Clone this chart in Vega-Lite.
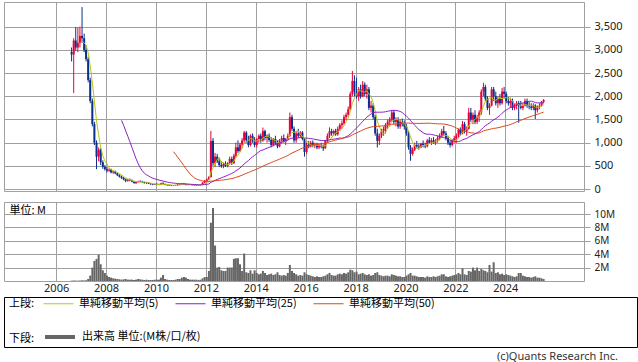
{
"$schema":"https://vega.github.io/schema/vega-lite/v6.json",
"padding":{"left":3,"top":1,"right":0,"bottom":0},
"background":"white",
"bounds":"flush",
"spacing":5,
"resolve":{"scale":{"color":"independent"},"legend":{"color":"independent"}},
"config":{
 "font":"Noto Sans",
 "view":{"stroke":"#a0a0a0","strokeWidth":1},
 "axis":{"labelFont":"Noto Sans","labelFontSize":11,"labelColor":"#222222","gridColor":"#a0a0a0","gridWidth":1,"tickColor":"#a0a0a0","domain":false},
 "legend":{"labelFont":"Noto Sans CJK JP","labelFontSize":11,"labelColor":"#000000","titleFont":"Noto Sans CJK JP","titleFontSize":11,"titleFontWeight":"normal","titleColor":"#000000"}
},
"datasets":{"p":[
{"d":"2006-08-15","o":2950,"h":3050,"l":2750,"c":2900,"v":0.05},
{"d":"2006-09-15","o":2900,"h":3250,"l":2070,"c":3200,"v":0.08},
{"d":"2006-10-15","o":3200,"h":3490,"l":2980,"c":3050,"v":0.06},
{"d":"2006-11-15","o":3050,"h":3480,"l":2950,"c":3150,"v":0.05},
{"d":"2006-12-15","o":3150,"h":3500,"l":3050,"c":3300,"v":0.07},
{"d":"2007-01-15","o":3300,"h":3920,"l":3150,"c":3250,"v":0.1},
{"d":"2007-02-15","o":3250,"h":3350,"l":2950,"c":3000,"v":0.08},
{"d":"2007-03-15","o":3000,"h":3100,"l":2750,"c":2800,"v":0.1},
{"d":"2007-04-15","o":2800,"h":2850,"l":2300,"c":2350,"v":0.3},
{"d":"2007-05-15","o":2350,"h":2400,"l":1850,"c":1900,"v":0.8},
{"d":"2007-06-15","o":1900,"h":1950,"l":1350,"c":1400,"v":2.0},
{"d":"2007-07-15","o":1400,"h":1450,"l":950,"c":1000,"v":3.0},
{"d":"2007-08-15","o":1000,"h":1050,"l":430,"c":700,"v":3.3},
{"d":"2007-09-15","o":700,"h":900,"l":600,"c":850,"v":3.9},
{"d":"2007-10-15","o":850,"h":880,"l":520,"c":580,"v":2.5},
{"d":"2007-11-15","o":580,"h":620,"l":440,"c":480,"v":1.6},
{"d":"2007-12-15","o":480,"h":520,"l":400,"c":430,"v":1.2},
{"d":"2008-01-15","o":430,"h":480,"l":360,"c":400,"v":0.8},
{"d":"2008-02-15","o":400,"h":450,"l":370,"c":420,"v":0.6},
{"d":"2008-03-15","o":420,"h":440,"l":340,"c":360,"v":0.5},
{"d":"2008-04-15","o":360,"h":400,"l":330,"c":380,"v":0.4},
{"d":"2008-05-15","o":380,"h":400,"l":320,"c":340,"v":0.35},
{"d":"2008-06-15","o":340,"h":360,"l":280,"c":300,"v":0.3},
{"d":"2008-07-15","o":300,"h":320,"l":250,"c":270,"v":0.25},
{"d":"2008-08-15","o":270,"h":290,"l":220,"c":240,"v":0.2},
{"d":"2008-09-15","o":240,"h":260,"l":190,"c":210,"v":0.25},
{"d":"2008-10-15","o":210,"h":230,"l":150,"c":180,"v":0.3},
{"d":"2008-11-15","o":180,"h":220,"l":160,"c":200,"v":0.2},
{"d":"2008-12-15","o":200,"h":230,"l":170,"c":190,"v":0.2},
{"d":"2009-01-15","o":190,"h":210,"l":150,"c":160,"v":0.2},
{"d":"2009-02-15","o":160,"h":170,"l":120,"c":130,"v":0.15},
{"d":"2009-03-15","o":130,"h":160,"l":110,"c":150,"v":0.2},
{"d":"2009-04-15","o":150,"h":180,"l":140,"c":170,"v":0.3},
{"d":"2009-05-15","o":170,"h":190,"l":150,"c":160,"v":0.25},
{"d":"2009-06-15","o":160,"h":180,"l":140,"c":150,"v":0.2},
{"d":"2009-07-15","o":150,"h":160,"l":120,"c":130,"v":0.15},
{"d":"2009-08-15","o":130,"h":150,"l":110,"c":140,"v":0.2},
{"d":"2009-09-15","o":140,"h":150,"l":110,"c":120,"v":0.15},
{"d":"2009-10-15","o":120,"h":130,"l":95,"c":105,"v":0.15},
{"d":"2009-11-15","o":105,"h":115,"l":85,"c":95,"v":0.15},
{"d":"2009-12-15","o":95,"h":120,"l":90,"c":110,"v":0.2},
{"d":"2010-01-15","o":110,"h":130,"l":95,"c":100,"v":0.2},
{"d":"2010-02-15","o":100,"h":115,"l":85,"c":95,"v":0.2},
{"d":"2010-03-15","o":95,"h":140,"l":90,"c":125,"v":0.5},
{"d":"2010-04-15","o":125,"h":150,"l":100,"c":110,"v":0.9},
{"d":"2010-05-15","o":110,"h":120,"l":85,"c":90,"v":0.3},
{"d":"2010-06-15","o":90,"h":100,"l":75,"c":85,"v":0.2},
{"d":"2010-07-15","o":85,"h":95,"l":70,"c":80,"v":0.15},
{"d":"2010-08-15","o":80,"h":90,"l":65,"c":75,"v":0.15},
{"d":"2010-09-15","o":75,"h":85,"l":65,"c":80,"v":0.15},
{"d":"2010-10-15","o":80,"h":95,"l":70,"c":85,"v":0.2},
{"d":"2010-11-15","o":85,"h":110,"l":80,"c":100,"v":0.3},
{"d":"2010-12-15","o":100,"h":120,"l":90,"c":105,"v":0.3},
{"d":"2011-01-15","o":105,"h":130,"l":95,"c":115,"v":0.5},
{"d":"2011-02-15","o":115,"h":135,"l":100,"c":110,"v":0.6},
{"d":"2011-03-15","o":110,"h":120,"l":80,"c":90,"v":0.5},
{"d":"2011-04-15","o":90,"h":100,"l":80,"c":95,"v":0.3},
{"d":"2011-05-15","o":95,"h":105,"l":85,"c":90,"v":0.2},
{"d":"2011-06-15","o":90,"h":100,"l":80,"c":85,"v":0.2},
{"d":"2011-07-15","o":85,"h":95,"l":75,"c":90,"v":0.2},
{"d":"2011-08-15","o":90,"h":95,"l":70,"c":80,"v":0.2},
{"d":"2011-09-15","o":80,"h":90,"l":70,"c":85,"v":0.15},
{"d":"2011-10-15","o":85,"h":95,"l":75,"c":90,"v":0.2},
{"d":"2011-11-15","o":90,"h":150,"l":85,"c":140,"v":0.4},
{"d":"2011-12-15","o":140,"h":200,"l":130,"c":180,"v":0.6},
{"d":"2012-01-15","o":180,"h":230,"l":170,"c":210,"v":0.6},
{"d":"2012-02-15","o":210,"h":280,"l":200,"c":260,"v":1.5},
{"d":"2012-03-15","o":260,"h":1255,"l":250,"c":1040,"v":8.7},
{"d":"2012-04-15","o":1040,"h":1100,"l":500,"c":560,"v":10.9},
{"d":"2012-05-15","o":560,"h":780,"l":480,"c":700,"v":5.3},
{"d":"2012-06-15","o":700,"h":760,"l":560,"c":600,"v":2.0},
{"d":"2012-07-15","o":600,"h":680,"l":480,"c":520,"v":2.1},
{"d":"2012-08-15","o":520,"h":600,"l":460,"c":500,"v":1.6},
{"d":"2012-09-15","o":500,"h":560,"l":450,"c":540,"v":1.5},
{"d":"2012-10-15","o":540,"h":600,"l":480,"c":500,"v":1.5},
{"d":"2012-11-15","o":500,"h":580,"l":470,"c":560,"v":2.0},
{"d":"2012-12-15","o":560,"h":700,"l":530,"c":650,"v":2.0},
{"d":"2013-01-15","o":650,"h":700,"l":520,"c":560,"v":2.0},
{"d":"2013-02-15","o":560,"h":760,"l":540,"c":720,"v":3.3},
{"d":"2013-03-15","o":720,"h":1000,"l":680,"c":900,"v":3.4},
{"d":"2013-04-15","o":900,"h":1050,"l":780,"c":820,"v":3.4},
{"d":"2013-05-15","o":820,"h":1000,"l":800,"c":960,"v":2.5},
{"d":"2013-06-15","o":960,"h":1100,"l":880,"c":1050,"v":1.5},
{"d":"2013-07-15","o":1050,"h":1254,"l":1000,"c":1220,"v":4.1},
{"d":"2013-08-15","o":1220,"h":1250,"l":1000,"c":1050,"v":1.3},
{"d":"2013-09-15","o":1050,"h":1150,"l":900,"c":950,"v":1.2},
{"d":"2013-10-15","o":950,"h":1180,"l":920,"c":1150,"v":1.6},
{"d":"2013-11-15","o":1150,"h":1200,"l":1000,"c":1050,"v":1.1},
{"d":"2013-12-15","o":1050,"h":1120,"l":900,"c":950,"v":1.6},
{"d":"2014-01-15","o":950,"h":1100,"l":900,"c":1080,"v":1.2},
{"d":"2014-02-15","o":1080,"h":1180,"l":1000,"c":1150,"v":1.0},
{"d":"2014-03-15","o":1150,"h":1200,"l":1000,"c":1050,"v":1.1},
{"d":"2014-04-15","o":1050,"h":1326,"l":1020,"c":1250,"v":1.5},
{"d":"2014-05-15","o":1250,"h":1280,"l":1050,"c":1100,"v":1.2},
{"d":"2014-06-15","o":1100,"h":1180,"l":1000,"c":1150,"v":0.9},
{"d":"2014-07-15","o":1150,"h":1200,"l":1020,"c":1060,"v":1.0},
{"d":"2014-08-15","o":1060,"h":1120,"l":900,"c":950,"v":1.1},
{"d":"2014-09-15","o":950,"h":1100,"l":920,"c":1080,"v":0.9},
{"d":"2014-10-15","o":1080,"h":1150,"l":950,"c":1000,"v":1.0},
{"d":"2014-11-15","o":1000,"h":1050,"l":880,"c":920,"v":1.3},
{"d":"2014-12-15","o":920,"h":1080,"l":900,"c":1050,"v":0.9},
{"d":"2015-01-15","o":1050,"h":1150,"l":980,"c":1100,"v":0.8},
{"d":"2015-02-15","o":1100,"h":1180,"l":1000,"c":1020,"v":0.9},
{"d":"2015-03-15","o":1020,"h":1100,"l":950,"c":1080,"v":0.8},
{"d":"2015-04-15","o":1080,"h":1200,"l":1050,"c":1150,"v":1.2},
{"d":"2015-05-15","o":1150,"h":1650,"l":1120,"c":1550,"v":2.4},
{"d":"2015-06-15","o":1550,"h":1600,"l":1250,"c":1300,"v":1.5},
{"d":"2015-07-15","o":1300,"h":1350,"l":1000,"c":1050,"v":1.2},
{"d":"2015-08-15","o":1050,"h":1250,"l":1000,"c":1200,"v":1.0},
{"d":"2015-09-15","o":1200,"h":1300,"l":1100,"c":1150,"v":0.8},
{"d":"2015-10-15","o":1150,"h":1250,"l":1100,"c":1220,"v":0.9},
{"d":"2015-11-15","o":1220,"h":1250,"l":1050,"c":1080,"v":0.8},
{"d":"2015-12-15","o":1080,"h":1100,"l":700,"c":800,"v":1.3},
{"d":"2016-01-15","o":800,"h":1000,"l":760,"c":960,"v":1.0},
{"d":"2016-02-15","o":960,"h":1040,"l":880,"c":920,"v":0.9},
{"d":"2016-03-15","o":920,"h":1040,"l":900,"c":1000,"v":0.8},
{"d":"2016-04-15","o":1000,"h":1050,"l":900,"c":940,"v":0.7},
{"d":"2016-05-15","o":940,"h":1000,"l":880,"c":960,"v":0.6},
{"d":"2016-06-15","o":960,"h":1000,"l":860,"c":900,"v":0.7},
{"d":"2016-07-15","o":900,"h":980,"l":860,"c":940,"v":0.6},
{"d":"2016-08-15","o":940,"h":1000,"l":880,"c":920,"v":0.6},
{"d":"2016-09-15","o":920,"h":960,"l":823,"c":880,"v":0.7},
{"d":"2016-10-15","o":880,"h":1060,"l":870,"c":1040,"v":0.8},
{"d":"2016-11-15","o":1040,"h":1200,"l":1000,"c":1150,"v":1.0},
{"d":"2016-12-15","o":1150,"h":1330,"l":1100,"c":1250,"v":1.2},
{"d":"2017-01-15","o":1250,"h":1300,"l":1150,"c":1200,"v":0.9},
{"d":"2017-02-15","o":1200,"h":1280,"l":1150,"c":1250,"v":0.8},
{"d":"2017-03-15","o":1250,"h":1300,"l":1150,"c":1180,"v":0.8},
{"d":"2017-04-15","o":1180,"h":1350,"l":1150,"c":1300,"v":1.0},
{"d":"2017-05-15","o":1300,"h":1420,"l":1250,"c":1380,"v":1.1},
{"d":"2017-06-15","o":1380,"h":1480,"l":1300,"c":1420,"v":1.0},
{"d":"2017-07-15","o":1420,"h":1600,"l":1380,"c":1550,"v":1.2},
{"d":"2017-08-15","o":1550,"h":1650,"l":1480,"c":1600,"v":1.1},
{"d":"2017-09-15","o":1600,"h":1780,"l":1550,"c":1720,"v":1.3},
{"d":"2017-10-15","o":1720,"h":2100,"l":1700,"c":2050,"v":1.7},
{"d":"2017-11-15","o":2050,"h":2545,"l":2000,"c":2330,"v":1.6},
{"d":"2017-12-15","o":2330,"h":2450,"l":2000,"c":2100,"v":1.3},
{"d":"2018-01-15","o":2100,"h":2400,"l":1950,"c":2000,"v":1.4},
{"d":"2018-02-15","o":2000,"h":2200,"l":1900,"c":2150,"v":1.0},
{"d":"2018-03-15","o":2150,"h":2250,"l":1950,"c":2000,"v":1.1},
{"d":"2018-04-15","o":2000,"h":2330,"l":1980,"c":2250,"v":1.2},
{"d":"2018-05-15","o":2250,"h":2300,"l":2000,"c":2050,"v":1.0},
{"d":"2018-06-15","o":2050,"h":2250,"l":1950,"c":2150,"v":0.9},
{"d":"2018-07-15","o":2150,"h":2200,"l":1700,"c":1750,"v":1.0},
{"d":"2018-08-15","o":1750,"h":1900,"l":1650,"c":1800,"v":0.8},
{"d":"2018-09-15","o":1800,"h":1850,"l":1500,"c":1550,"v":0.9},
{"d":"2018-10-15","o":1550,"h":1600,"l":1150,"c":1200,"v":1.2},
{"d":"2018-11-15","o":1200,"h":1300,"l":896,"c":1040,"v":1.3},
{"d":"2018-12-15","o":1040,"h":1200,"l":950,"c":1150,"v":0.9},
{"d":"2019-01-15","o":1150,"h":1300,"l":1100,"c":1250,"v":0.8},
{"d":"2019-02-15","o":1250,"h":1350,"l":1150,"c":1300,"v":0.7},
{"d":"2019-03-15","o":1300,"h":1420,"l":1200,"c":1380,"v":0.8},
{"d":"2019-04-15","o":1380,"h":1500,"l":1300,"c":1450,"v":0.8},
{"d":"2019-05-15","o":1450,"h":1550,"l":1350,"c":1500,"v":0.7},
{"d":"2019-06-15","o":1500,"h":1700,"l":1450,"c":1650,"v":1.0},
{"d":"2019-07-15","o":1650,"h":1700,"l":1400,"c":1450,"v":0.9},
{"d":"2019-08-15","o":1450,"h":1550,"l":1350,"c":1500,"v":0.8},
{"d":"2019-09-15","o":1500,"h":1550,"l":1300,"c":1350,"v":0.7},
{"d":"2019-10-15","o":1350,"h":1500,"l":1300,"c":1450,"v":0.7},
{"d":"2019-11-15","o":1450,"h":1520,"l":1350,"c":1400,"v":0.6},
{"d":"2019-12-15","o":1400,"h":1480,"l":1280,"c":1350,"v":0.6},
{"d":"2020-01-15","o":1350,"h":1400,"l":1150,"c":1200,"v":0.8},
{"d":"2020-02-15","o":1200,"h":1250,"l":850,"c":900,"v":1.0},
{"d":"2020-03-15","o":900,"h":950,"l":610,"c":760,"v":1.2},
{"d":"2020-04-15","o":760,"h":900,"l":720,"c":850,"v":0.8},
{"d":"2020-05-15","o":850,"h":1000,"l":820,"c":950,"v":0.8},
{"d":"2020-06-15","o":950,"h":1040,"l":880,"c":920,"v":0.7},
{"d":"2020-07-15","o":920,"h":980,"l":850,"c":900,"v":0.6},
{"d":"2020-08-15","o":900,"h":1000,"l":880,"c":980,"v":0.6},
{"d":"2020-09-15","o":980,"h":1050,"l":900,"c":950,"v":0.6},
{"d":"2020-10-15","o":950,"h":1000,"l":880,"c":920,"v":0.5},
{"d":"2020-11-15","o":920,"h":1080,"l":900,"c":1050,"v":0.7},
{"d":"2020-12-15","o":1050,"h":1120,"l":980,"c":1000,"v":0.6},
{"d":"2021-01-15","o":1000,"h":1100,"l":950,"c":1050,"v":0.6},
{"d":"2021-02-15","o":1050,"h":1120,"l":980,"c":1000,"v":0.7},
{"d":"2021-03-15","o":1000,"h":1080,"l":950,"c":1050,"v":0.6},
{"d":"2021-04-15","o":1050,"h":1150,"l":1000,"c":1100,"v":0.7},
{"d":"2021-05-15","o":1100,"h":1200,"l":1050,"c":1150,"v":0.8},
{"d":"2021-06-15","o":1150,"h":1300,"l":1100,"c":1250,"v":1.0},
{"d":"2021-07-15","o":1250,"h":1360,"l":1150,"c":1200,"v":1.0},
{"d":"2021-08-15","o":1200,"h":1250,"l":1050,"c":1100,"v":0.7},
{"d":"2021-09-15","o":1100,"h":1150,"l":950,"c":1000,"v":0.6},
{"d":"2021-10-15","o":1000,"h":1050,"l":896,"c":950,"v":0.7},
{"d":"2021-11-15","o":950,"h":1080,"l":920,"c":1050,"v":0.8},
{"d":"2021-12-15","o":1050,"h":1150,"l":1000,"c":1100,"v":0.9},
{"d":"2022-01-15","o":1100,"h":1200,"l":1000,"c":1150,"v":1.0},
{"d":"2022-02-15","o":1150,"h":1300,"l":1100,"c":1280,"v":1.2},
{"d":"2022-03-15","o":1280,"h":1330,"l":1150,"c":1200,"v":1.0},
{"d":"2022-04-15","o":1200,"h":1470,"l":1180,"c":1400,"v":1.9},
{"d":"2022-05-15","o":1400,"h":1450,"l":1200,"c":1250,"v":1.0},
{"d":"2022-06-15","o":1250,"h":1350,"l":1150,"c":1300,"v":0.9},
{"d":"2022-07-15","o":1300,"h":1750,"l":1280,"c":1650,"v":1.5},
{"d":"2022-08-15","o":1650,"h":1750,"l":1450,"c":1500,"v":1.4},
{"d":"2022-09-15","o":1500,"h":1650,"l":1400,"c":1600,"v":2.0},
{"d":"2022-10-15","o":1600,"h":1700,"l":1400,"c":1450,"v":1.6},
{"d":"2022-11-15","o":1450,"h":1600,"l":1400,"c":1550,"v":2.0},
{"d":"2022-12-15","o":1550,"h":1700,"l":1450,"c":1650,"v":1.5},
{"d":"2023-01-15","o":1650,"h":2150,"l":1600,"c":2100,"v":1.8},
{"d":"2023-02-15","o":2100,"h":2290,"l":2000,"c":2200,"v":1.6},
{"d":"2023-03-15","o":2200,"h":2250,"l":1900,"c":1950,"v":1.5},
{"d":"2023-04-15","o":1950,"h":2000,"l":1700,"c":1750,"v":1.3},
{"d":"2023-05-15","o":1750,"h":1850,"l":1600,"c":1800,"v":2.4},
{"d":"2023-06-15","o":1800,"h":2200,"l":1780,"c":2150,"v":1.4},
{"d":"2023-07-15","o":2150,"h":2200,"l":1900,"c":2000,"v":2.8},
{"d":"2023-08-15","o":2000,"h":2100,"l":1800,"c":1850,"v":1.2},
{"d":"2023-09-15","o":1850,"h":2000,"l":1750,"c":1950,"v":1.3},
{"d":"2023-10-15","o":1950,"h":2050,"l":1800,"c":1850,"v":1.0},
{"d":"2023-11-15","o":1850,"h":2180,"l":1820,"c":2100,"v":1.1},
{"d":"2023-12-15","o":2100,"h":2200,"l":1950,"c":2050,"v":0.9},
{"d":"2024-01-15","o":2050,"h":2100,"l":1850,"c":1900,"v":1.0},
{"d":"2024-02-15","o":1900,"h":1980,"l":1800,"c":1850,"v":0.9},
{"d":"2024-03-15","o":1850,"h":1970,"l":1750,"c":1900,"v":0.8},
{"d":"2024-04-15","o":1900,"h":1950,"l":1700,"c":1750,"v":0.7},
{"d":"2024-05-15","o":1750,"h":1850,"l":1700,"c":1800,"v":0.6},
{"d":"2024-06-15","o":1800,"h":1900,"l":1720,"c":1850,"v":0.7},
{"d":"2024-07-15","o":1850,"h":1900,"l":1430,"c":1800,"v":1.2},
{"d":"2024-08-15","o":1800,"h":1900,"l":1720,"c":1750,"v":1.2},
{"d":"2024-09-15","o":1750,"h":1850,"l":1700,"c":1800,"v":0.8},
{"d":"2024-10-15","o":1800,"h":1950,"l":1780,"c":1900,"v":0.7},
{"d":"2024-11-15","o":1900,"h":1950,"l":1750,"c":1800,"v":0.6},
{"d":"2024-12-15","o":1800,"h":1880,"l":1720,"c":1780,"v":0.6},
{"d":"2025-01-15","o":1780,"h":1850,"l":1700,"c":1750,"v":0.5},
{"d":"2025-02-15","o":1750,"h":1850,"l":1700,"c":1800,"v":0.6},
{"d":"2025-03-15","o":1800,"h":1830,"l":1510,"c":1700,"v":0.7},
{"d":"2025-04-15","o":1700,"h":1800,"l":1650,"c":1780,"v":0.5},
{"d":"2025-05-15","o":1780,"h":1850,"l":1720,"c":1800,"v":0.5},
{"d":"2025-06-15","o":1800,"h":1900,"l":1780,"c":1880,"v":0.4},
{"d":"2025-07-15","o":1880,"h":1940,"l":1850,"c":1920,"v":0.3}
]},
"vconcat":[
{
 "width":580,"height":189,
 "data":{"name":"p"},
 "encoding":{
  "x":{"field":"d","type":"temporal","scale":{"type":"utc","domain":[{"year":2004,"month":2,"date":11,"utc":true},{"year":2026,"month":12,"date":15,"utc":true}]},
       "axis":{"values":[{"year":2006,"utc":true},{"year":2008,"utc":true},{"year":2010,"utc":true},{"year":2012,"utc":true},{"year":2014,"utc":true},{"year":2016,"utc":true},{"year":2018,"utc":true},{"year":2020,"utc":true},{"year":2022,"utc":true},{"year":2024,"utc":true}],"grid":true,"labels":false,"ticks":false,"domain":false,"title":null}}
 },
 "layer":[
  {"mark":{"type":"rule","strokeWidth":1},
   "encoding":{
    "y":{"field":"l","type":"quantitative","scale":{"domain":[-40,4030],"nice":false,"zero":false},
         "axis":{"orient":"right","values":[0,500,1000,1500,2000,2500,3000,3500],"format":",.0f","tickSize":6,"labelPadding":4,"grid":true,"title":null}},
    "y2":{"field":"h"},
    "color":{"condition":{"test":"datum.c >= datum.o","value":"#e8003a"},"value":"#0b2f8a"}
   }},
  {"mark":{"type":"bar","size":2},
   "encoding":{
    "y":{"field":"o","type":"quantitative","axis":{"orient":"right","values":[0,500,1000,1500,2000,2500,3000,3500],"format":",.0f","tickSize":6,"labelPadding":4,"grid":true,"title":null}},
    "y2":{"field":"c"},
    "color":{"condition":{"test":"datum.c >= datum.o","value":"#e8003a"},"value":"#0b2f8a"}
   }},
  {"transform":[{"window":[{"op":"mean","field":"c","as":"m"},{"op":"count","as":"n"}],"frame":[-4,0],"sort":[{"field":"d"}]},{"filter":"datum.n == 5"}],
   "mark":{"type":"line","strokeWidth":1},
   "encoding":{
    "y":{"field":"m","type":"quantitative","axis":{"orient":"right","values":[0,500,1000,1500,2000,2500,3000,3500],"format":",.0f","tickSize":6,"labelPadding":4,"grid":true,"title":null}},
    "color":{"datum":"単純移動平均(5)","type":"nominal",
      "scale":{"domain":["単純移動平均(5)","単純移動平均(25)","単純移動平均(50)"],"range":["#b4c814","#8b1fc6","#d9481a"]},
      "legend":{"title":"上段:","orient":"none","legendX":5,"legendY":286,"direction":"horizontal","titleOrient":"left","titleAnchor":"middle","titleBaseline":"middle","symbolType":"stroke","symbolSize":900,"symbolStrokeWidth":1,"columnPadding":14,"labelOffset":5,"titlePadding":8,"padding":0,
        "encode":{"title":{"update":{"dy":{"value":6}}}}}}
   }},
  {"transform":[{"window":[{"op":"mean","field":"c","as":"m"},{"op":"count","as":"n"}],"frame":[-24,0],"sort":[{"field":"d"}]},{"filter":"datum.n == 25"}],
   "mark":{"type":"line","strokeWidth":1},
   "encoding":{
    "y":{"field":"m","type":"quantitative","axis":{"orient":"right","values":[0,500,1000,1500,2000,2500,3000,3500],"format":",.0f","tickSize":6,"labelPadding":4,"grid":true,"title":null}},
    "color":{"datum":"単純移動平均(25)","type":"nominal"}
   }},
  {"transform":[{"window":[{"op":"mean","field":"c","as":"m"},{"op":"count","as":"n"}],"frame":[-49,0],"sort":[{"field":"d"}]},{"filter":"datum.n == 50"}],
   "mark":{"type":"line","strokeWidth":1},
   "encoding":{
    "y":{"field":"m","type":"quantitative","axis":{"orient":"right","values":[0,500,1000,1500,2000,2500,3000,3500],"format":",.0f","tickSize":6,"labelPadding":4,"grid":true,"title":null}},
    "color":{"datum":"単純移動平均(50)","type":"nominal"}
   }}
 ]
},
{"width":10,"height":1,"data":{"values":[]},"mark":"rule","encoding":{},"view":{"stroke":null}},
{
 "width":580,"height":79,
 "data":{"name":"p"},
 "mark":{"type":"bar","size":2},
 "encoding":{
  "x":{"field":"d","type":"temporal","scale":{"type":"utc","domain":[{"year":2004,"month":2,"date":11,"utc":true},{"year":2026,"month":12,"date":15,"utc":true}]},
       "axis":{"values":[{"year":2006,"utc":true},{"year":2008,"utc":true},{"year":2010,"utc":true},{"year":2012,"utc":true},{"year":2014,"utc":true},{"year":2016,"utc":true},{"year":2018,"utc":true},{"year":2020,"utc":true},{"year":2022,"utc":true},{"year":2024,"utc":true}],"format":"%Y","grid":true,"ticks":false,"domain":false,"labelPadding":1,"labelOverlap":false,"labelFlush":false,"title":null}},
  "y":{"field":"v","type":"quantitative","scale":{"domain":[0,11.8],"nice":false},
       "axis":{"orient":"right","values":[2,4,6,8,10],"labelExpr":"datum.value + 'M'","labelFontSize":10,"tickSize":6,"labelPadding":4,"grid":true,
         "title":"単位: M","titleAngle":0,"titleX":-575,"titleY":11,"titleAlign":"left","titleBaseline":"alphabetic","titleFont":"Noto Sans CJK JP","titleFontSize":11,"titleFontWeight":"normal","titleColor":"#000000"}},
  "color":{"datum":"出来高 単位:(M株/口/枚)","type":"nominal","scale":{"range":["#666666"]},
    "legend":{"title":"下段:","orient":"none","legendX":5,"legendY":118,"direction":"horizontal","titleOrient":"left","titleAnchor":"middle","titleBaseline":"middle","symbolType":"stroke","symbolSize":900,"symbolStrokeWidth":4,"symbolStrokeColor":"#666666","labelOffset":5,"titlePadding":8,"padding":0,
      "encode":{"title":{"update":{"dy":{"value":6}}}}}}
 }
},
{"width":10,"height":6,"data":{"values":[]},"mark":"rule","encoding":{},"view":{"stroke":null}},
{
 "width":633,"height":50,
 "data":{"values":[]},
 "mark":"rule","encoding":{},
 "view":{"stroke":"#000000","strokeWidth":1},
 "title":{"text":"(c)Quants Research Inc.","orient":"bottom","anchor":"end","frame":"group","offset":4,"dx":-19,"baseline":"top","font":"Noto Sans","fontSize":11,"fontWeight":"normal","color":"#333333"}
}
]
}
